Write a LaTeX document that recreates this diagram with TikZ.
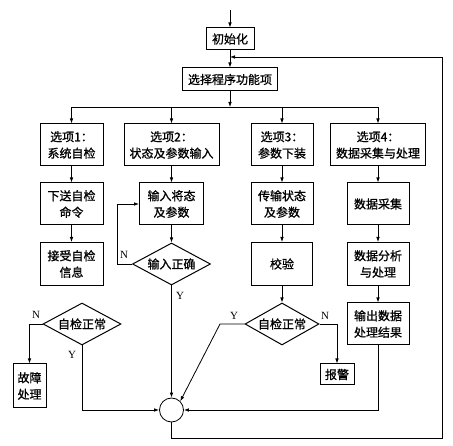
\documentclass[tikz,border=0pt]{standalone}
\usepackage{fontspec}
\setmainfont{Liberation Serif}
\newfontfamily\cjk[FakeBold=0.9]{Noto Sans CJK SC}
\usetikzlibrary{shapes.geometric,arrows.meta,calc}
\begin{document}
\begin{tikzpicture}[x=1pt,y=-1pt,
  box/.style={draw,line width=1pt,inner sep=0pt,align=center,
    font=\cjk\fontsize{12}{16.5}\selectfont},
  dia/.style={diamond,aspect=1.86,draw,line width=1pt,inner sep=0pt,align=center,
    font=\cjk\fontsize{12}{16.5}\selectfont},
  arr/.style={-{Latex[length=5pt,width=3.6pt]},line width=0.8pt},
  ln/.style={line width=0.8pt},
  lab/.style={font=\fontsize{11}{12}\selectfont,inner sep=0pt}]
\useasboundingbox (0,0) rectangle (453,446);

\coordinate (top) at (230,10);
\node[box,minimum width=48,minimum height=22] (init) at (230,39) {初始化};
\node[box,minimum width=95,minimum height=23] (sel) at (230,79.5) {选择程序功能项};
\coordinate (bus) at (230,107);

% row 1
\node[box,minimum width=63,minimum height=42] (o1) at (71.5,145) {选项1：\\系统自检};
\node[box,minimum width=95,minimum height=42] (o2) at (171.5,145) {选项2：\\状态及参数输入};
\node[box,minimum width=62,minimum height=42] (o3) at (282,145) {选项3：\\参数下装};
\node[box,minimum width=95,minimum height=42] (o4) at (378,145) {选项4：\\数据采集与处理};
% row 2
\node[box,minimum width=63,minimum height=42] (a1) at (71.5,204) {下送自检\\命令};
\node[box,minimum width=64,minimum height=42] (a2) at (171.5,204) {输入将态\\及参数};
\node[box,minimum width=62,minimum height=42] (a3) at (282,204) {传输状态\\及参数};
\node[box,minimum width=62,minimum height=42] (a4) at (378,204) {数据采集};
% row 3
\node[box,minimum width=63,minimum height=43] (b1) at (71.5,264) {接受自检\\信息};
\node[dia,minimum width=78,minimum height=42] (b2) at (171.5,264) {输入正确};
\node[box,minimum width=61,minimum height=43] (b3) at (282,264) {校验};
\node[box,minimum width=62,minimum height=43] (b4) at (378,264) {数据分析\\与处理};
% row 4
\node[dia,minimum width=78,minimum height=42] (c1) at (82,324) {自检正常};
\node[dia,minimum width=74,minimum height=42] (c3) at (282,324) {自检正常};
\node[box,minimum width=62,minimum height=42] (c4) at (378,324) {输出数据\\处理结果};
% row 5
\node[box,minimum width=33,minimum height=44] (fault) at (29.5,386) {故障\\处理};
\node[box,minimum width=34,minimum height=21] (alarm) at (337,374.5) {报警};
\node[circle,draw,line width=0.8pt,minimum size=24,inner sep=0pt] (circ) at (171.5,410) {};

\coordinate (fbin) at (230,57);
\coordinate (fbr) at (442,438);
\coordinate (nloop) at (117,264);
\coordinate (ry) at (220,324);

% connectors
\draw[arr] (top) -- (init);
\draw[arr] (init) -- (sel);
\draw[arr] (sel) -- (bus);
\draw[ln] (o1.north |- bus) -- (o4.north |- bus);
\foreach \n in {o1,o2,o3,o4} \draw[arr] (\n.north |- bus) -- (\n.north);
\draw[arr] (o1) -- (a1);
\draw[arr] (a1) -- (b1);
\draw[arr] (o2) -- (a2);
\draw[arr] (a2) -- (b2);
\draw[arr] (o3) -- (a3);
\draw[arr] (a3) -- (b3);
\draw[arr] (b3) -- (c3);
\draw[arr] (o4) -- (a4);
\draw[arr] (a4) -- (b4);
\draw[arr] (b4) -- (c4);

\draw[arr] (b2.west) -- (nloop) |- (a2.west);
\draw[arr] (b2.south) -- (circ.north);
\draw[arr] (c1.west) -| (fault.north);
\draw[arr] (c1.south) |- (circ.west);
\draw[arr] (c3.west) -- (ry) -- (circ.north east);
\draw[arr] (c3.east) -| (alarm.north);
\draw[arr] (c4.south) |- (circ.east);
\draw[arr] (circ.south) |- (fbr) |- (fbin);

% labels
\node[lab] (l1) at (124,255) {N};
\node[lab] (l2) at (180,296) {Y};
\node[lab] (l3) at (36,315) {N};
\node[lab] (l4) at (72,355) {Y};
\node[lab] (l5) at (234,316) {Y};
\node[lab] (l6) at (325,316) {N};
\end{tikzpicture}
\end{document}
